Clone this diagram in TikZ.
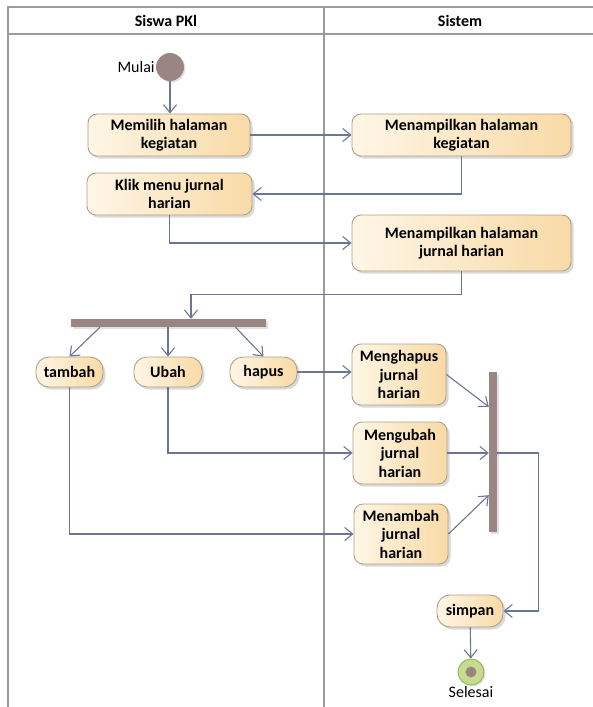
\documentclass[tikz,border=0pt]{standalone}
\usepackage{fontspec}
\setmainfont{Carlito}
\usepackage{tikz}
\usetikzlibrary{arrows.meta, shadows}

\definecolor{lanegray}{HTML}{A09999}
\definecolor{flowblue}{HTML}{6B7594}
\definecolor{actedge}{HTML}{B39F86}
\definecolor{actlight}{HTML}{FEF6E6}
\definecolor{actdark}{HTML}{F8DAA6}
\definecolor{barfill}{HTML}{9B8583}
\definecolor{endgreen}{HTML}{C5DC8E}
\definecolor{endedge}{HTML}{9CB766}

\begin{document}
\begin{tikzpicture}[
  x=1pt, y=-1pt,
  font=\fontsize{16}{18.5}\selectfont\bfseries,
  every node/.style={align=center},
  act/.style={draw=actedge, line width=0.9pt, rounded corners=9pt,
    left color=actlight, right color=actdark, inner sep=1pt,
    drop shadow={shadow xshift=2.5pt, shadow yshift=-2.5pt, fill=black, opacity=0.15}},
  pill/.style={act, rounded corners=13pt},
  bar/.style={fill=barfill, inner sep=0pt,
    drop shadow={shadow xshift=2pt, shadow yshift=-2pt, fill=black, opacity=0.12}},
  flow/.style={draw=flowblue, line width=1.1pt, -{Straight Barb[length=8pt, width=13pt]}},
  lane/.style={draw=lanegray, line width=1.8pt},
  plain/.style={font=\fontsize{16}{18.5}\selectfont, inner sep=1pt}
]
\useasboundingbox (0,0) rectangle (593,707);

%% ---- Swimlanes ----
\draw[lane] (8,707) -- (8,7) -- (593,7);
\draw[lane] (8,34) -- (593,34);
\draw[lane] (324,7) -- (324,707);
\node (siswaHdr)  at (166,21) {Siswa PKl};
\node (sistemHdr) at (460,21) {Sistem};

%% ---- Start ----
\node[circle, fill=barfill, minimum size=28pt, inner sep=0pt,
  drop shadow={shadow xshift=1.5pt, shadow yshift=-1.5pt, fill=black, opacity=0.12}]
  (start) at (170,67) {};
\node[plain, anchor=east] (mulai) at (start.west) {Mulai};

%% ---- Siswa PKl / Sistem actions ----
\node[act, minimum width=162pt, minimum height=42pt] (pilih)     at (169,135)   {Memilih halaman\\kegiatan};
\node[act, minimum width=219pt, minimum height=42pt] (tampilKeg) at (461.5,135) {Menampilkan halaman\\kegiatan};
\node[act, minimum width=165pt, minimum height=42pt] (klik)      at (169.5,194) {Klik menu jurnal\\harian};
\node[act, minimum width=219pt, minimum height=56pt] (tampilJur) at (461.5,243) {Menampilkan halaman\\jurnal harian};

%% ---- Fork ----
\node[bar, minimum width=195pt, minimum height=8pt] (fork) at (168.5,323) {};
\node[pill, minimum width=67pt, minimum height=30pt] (tambah) at (69.5,372)  {tambah};
\node[pill, minimum width=68pt, minimum height=30pt] (ubah)   at (168,372)   {Ubah};
\node[pill, minimum width=67pt, minimum height=30pt] (hapus)  at (263.5,372) {hapus};

\node[act, minimum width=94pt, minimum height=61pt] (hapusJur)  at (399,374.5) {Menghapus\\jurnal\\harian};
\node[act, minimum width=94pt, minimum height=62pt] (ubahJur)   at (400,453)   {Mengubah\\jurnal\\harian};
\node[act, minimum width=94pt, minimum height=60pt] (tambahJur) at (401,534)   {Menambah\\jurnal\\harian};

%% ---- Join + end ----
\node[bar, minimum width=8pt, minimum height=160pt] (join) at (493,452) {};
\node[pill, minimum width=66pt, minimum height=32pt] (simpan) at (470,611) {simpan};
\node[circle, draw=endedge, line width=1pt, fill=endgreen, minimum size=26pt, inner sep=0pt,
  drop shadow={shadow xshift=1.5pt, shadow yshift=-1.5pt, fill=black, opacity=0.12}]
  (final) at (471,672) {};
\node[circle, fill=barfill, minimum size=11pt, inner sep=0pt] (finalDot) at (final) {};
\node[plain, anchor=north] (selesai) at (final.south) {Selesai};

%% ---- Connectors ----
\draw[flow] (start) -- (start |- pilih.north);
\draw[flow] (pilih) -- (tampilKeg);
\draw[flow] (tampilKeg.south) |- (klik.east);
\draw[flow] (klik.south) |- (tampilJur.west);
\draw[flow] (tampilJur.south) -- ++(0,23) -| ([xshift=22.5pt]fork.north);

\draw[flow] ([xshift=-68.5pt]fork.south) -- (tambah.north);
\draw[flow] (fork.south -| ubah) -- (ubah.north);
\draw[flow] ([xshift=67pt]fork.south) -- (hapus.north);

\draw[flow] (hapus.east) -- (hapus.east -| hapusJur.west);
\draw[flow] (ubah.south) |- (ubahJur.west);
\draw[flow] (tambah.south) |- (tambahJur.west);

\draw[flow] (hapusJur.east) -- ([yshift=-35pt]join.north west);
\draw[flow] (ubahJur.east) -- (ubahJur.east -| join.west);
\draw[flow] (tambahJur.east) -- ([yshift=37pt]join.south west);

\draw[flow] (join.east |- ubahJur.east) -- ++(41,0) |- (simpan);
\draw[flow] (simpan) -- (final);

\end{tikzpicture}
\end{document}
